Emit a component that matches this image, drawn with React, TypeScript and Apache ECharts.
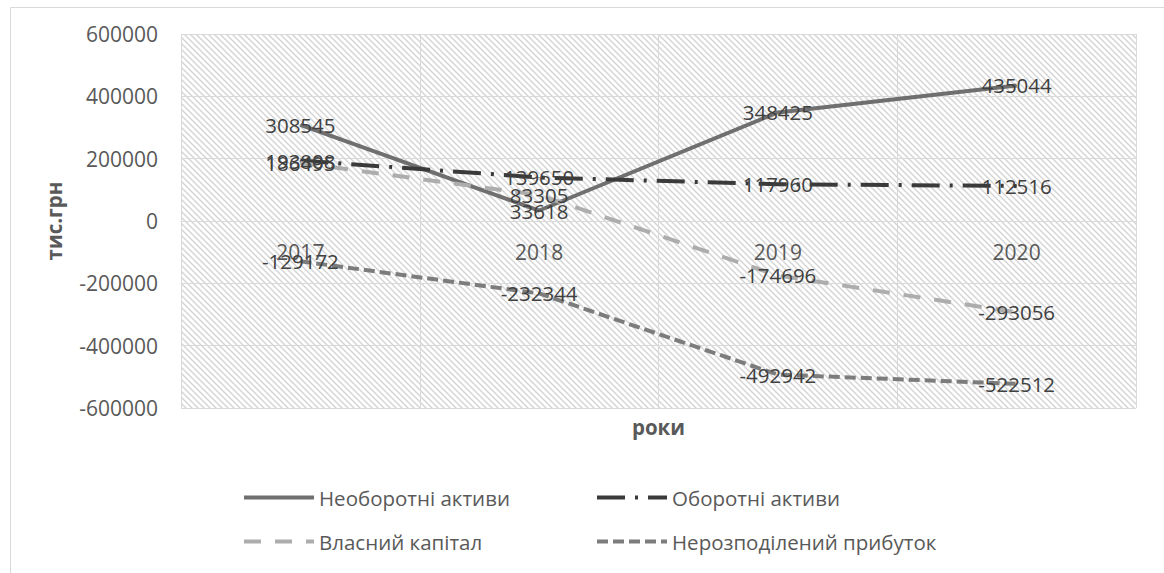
import React, { useEffect, useRef } from "react";
import * as echarts from "echarts";

// Years on the category axis
const years = ["2017", "2018", "2019", "2020"];

// Balance-sheet indicators, тис. грн
const nonCurrentAssets = [308545, 33618, 348425, 435044];
const currentAssets = [193808, 139650, 117960, 112516];
const equity = [186495, 83305, -174696, -293056];
const retainedEarnings = [-129172, -232344, -492942, -522512];

const seriesNames = [
  "Необоротні активи",
  "Оборотні активи",
  "Власний капітал",
  "Нерозподілений прибуток",
];

const FONT = "'Open Sans', 'Noto Sans', sans-serif";

// Light diagonal hatch used as the plot-area fill
function makeHatch(): string {
  const size = 6;
  const c = document.createElement("canvas");
  c.width = size;
  c.height = size;
  const ctx = c.getContext("2d")!;
  ctx.fillStyle = "#ffffff";
  ctx.fillRect(0, 0, size, size);
  ctx.strokeStyle = "#d4d4d4";
  ctx.lineWidth = 1.4;
  ctx.beginPath();
  ctx.moveTo(-1, -1);
  ctx.lineTo(size + 1, size + 1);
  ctx.moveTo(-1, size - 1);
  ctx.lineTo(1, size + 1);
  ctx.moveTo(size - 1, -1);
  ctx.lineTo(size + 1, 1);
  ctx.stroke();
  return c.toDataURL();
}

export default function App() {
  const ref = useRef<HTMLDivElement>(null);

  useEffect(() => {
    if (!ref.current) return;
    const chart = echarts.init(ref.current, null, { renderer: "svg" });

    const labelStyle = {
      show: true,
      position: "inside" as const,
      color: "#404040",
      fontSize: 20.5,
      fontFamily: FONT,
      formatter: (p: any) => String(p.value),
    };

    const makeSeries = (
      name: string,
      data: number[],
      color: string,
      type: any
    ) => ({
      name,
      type: "line",
      data,
      color,
      symbol: "circle",
      symbolSize: 1,
      itemStyle: { color },
      lineStyle: { color, width: 4, type, cap: "butt" },
      label: labelStyle,
      emphasis: { disabled: true },
      z: 3,
    });

    const legendItem = (name: string, left: number, top: number) => ({
      show: true,
      data: [name],
      left,
      top,
      padding: 0,
      itemWidth: 70,
      itemHeight: 14,
      itemStyle: { opacity: 0 },
      lineStyle: { width: 4 },
      textStyle: { color: "#595959", fontSize: 20.5, fontFamily: FONT },
      selectedMode: false,
    });

    chart.setOption({
      animation: false,
      backgroundColor: "#ffffff",
      textStyle: { fontFamily: FONT },
      graphic: [
        {
          type: "rect",
          left: 8,
          top: 5,
          shape: { width: 1200, height: 620 },
          style: { fill: "none", stroke: "#d9d9d9", lineWidth: 1 },
          silent: true,
          z: -10,
        },
      ],
      grid: {
        left: 181,
        right: 28,
        top: 34,
        bottom: 165,
        show: true,
        borderWidth: 0,
        outerBoundsMode: "none",
        containLabel: false,
        backgroundColor: { image: makeHatch(), repeat: "repeat" } as any,
      },
      legend: [
        legendItem(seriesNames[0], 242, 487),
        legendItem(seriesNames[1], 595, 487),
        legendItem(seriesNames[2], 242, 531),
        legendItem(seriesNames[3], 595, 531),
      ],
      xAxis: {
        type: "category",
        data: years,
        boundaryGap: true,
        // category axis sits on the zero line of the value axis
        offset: -187,
        name: "роки",
        nameLocation: "middle",
        nameGap: 195,
        nameTextStyle: {
          color: "#595959",
          fontSize: 20.5,
          fontWeight: "bold",
          fontFamily: FONT,
        },
        axisLine: { onZero: false, lineStyle: { color: "#d9d9d9", width: 1 } },
        axisTick: { show: false },
        axisLabel: {
          color: "#595959",
          fontSize: 21,
          fontFamily: FONT,
          margin: 20,
        },
        splitLine: { show: true, lineStyle: { color: "#d9d9d9", width: 1 } },
      },
      yAxis: {
        type: "value",
        min: -600000,
        max: 600000,
        interval: 200000,
        name: "тис.грн",
        nameLocation: "middle",
        nameGap: 117,
        nameRotate: 90,
        nameTextStyle: {
          color: "#595959",
          fontSize: 20.5,
          fontWeight: "bold",
          fontFamily: FONT,
        },
        axisLine: { show: false },
        axisTick: { show: false },
        axisLabel: {
          color: "#595959",
          fontSize: 21,
          fontFamily: FONT,
          margin: 23,
          formatter: (v: number) => String(v),
        },
        splitLine: { show: true, lineStyle: { color: "#d9d9d9", width: 1 } },
      },
      series: [
        makeSeries(seriesNames[0], nonCurrentAssets, "#6f6f6f", "solid"),
        makeSeries(seriesNames[1], currentAssets, "#3a3a3a", [28, 10, 3, 10]),
        makeSeries(seriesNames[2], equity, "#adadad", [17, 14]),
        makeSeries(seriesNames[3], retainedEarnings, "#7c7c7c", [11, 5]),
      ],
    });

    return () => chart.dispose();
  }, []);

  return (
    <div
      ref={ref}
      style={{
        position: "fixed",
        left: 0,
        top: 0,
        width: 1164,
        height: 573,
      }}
    />
  );
}
